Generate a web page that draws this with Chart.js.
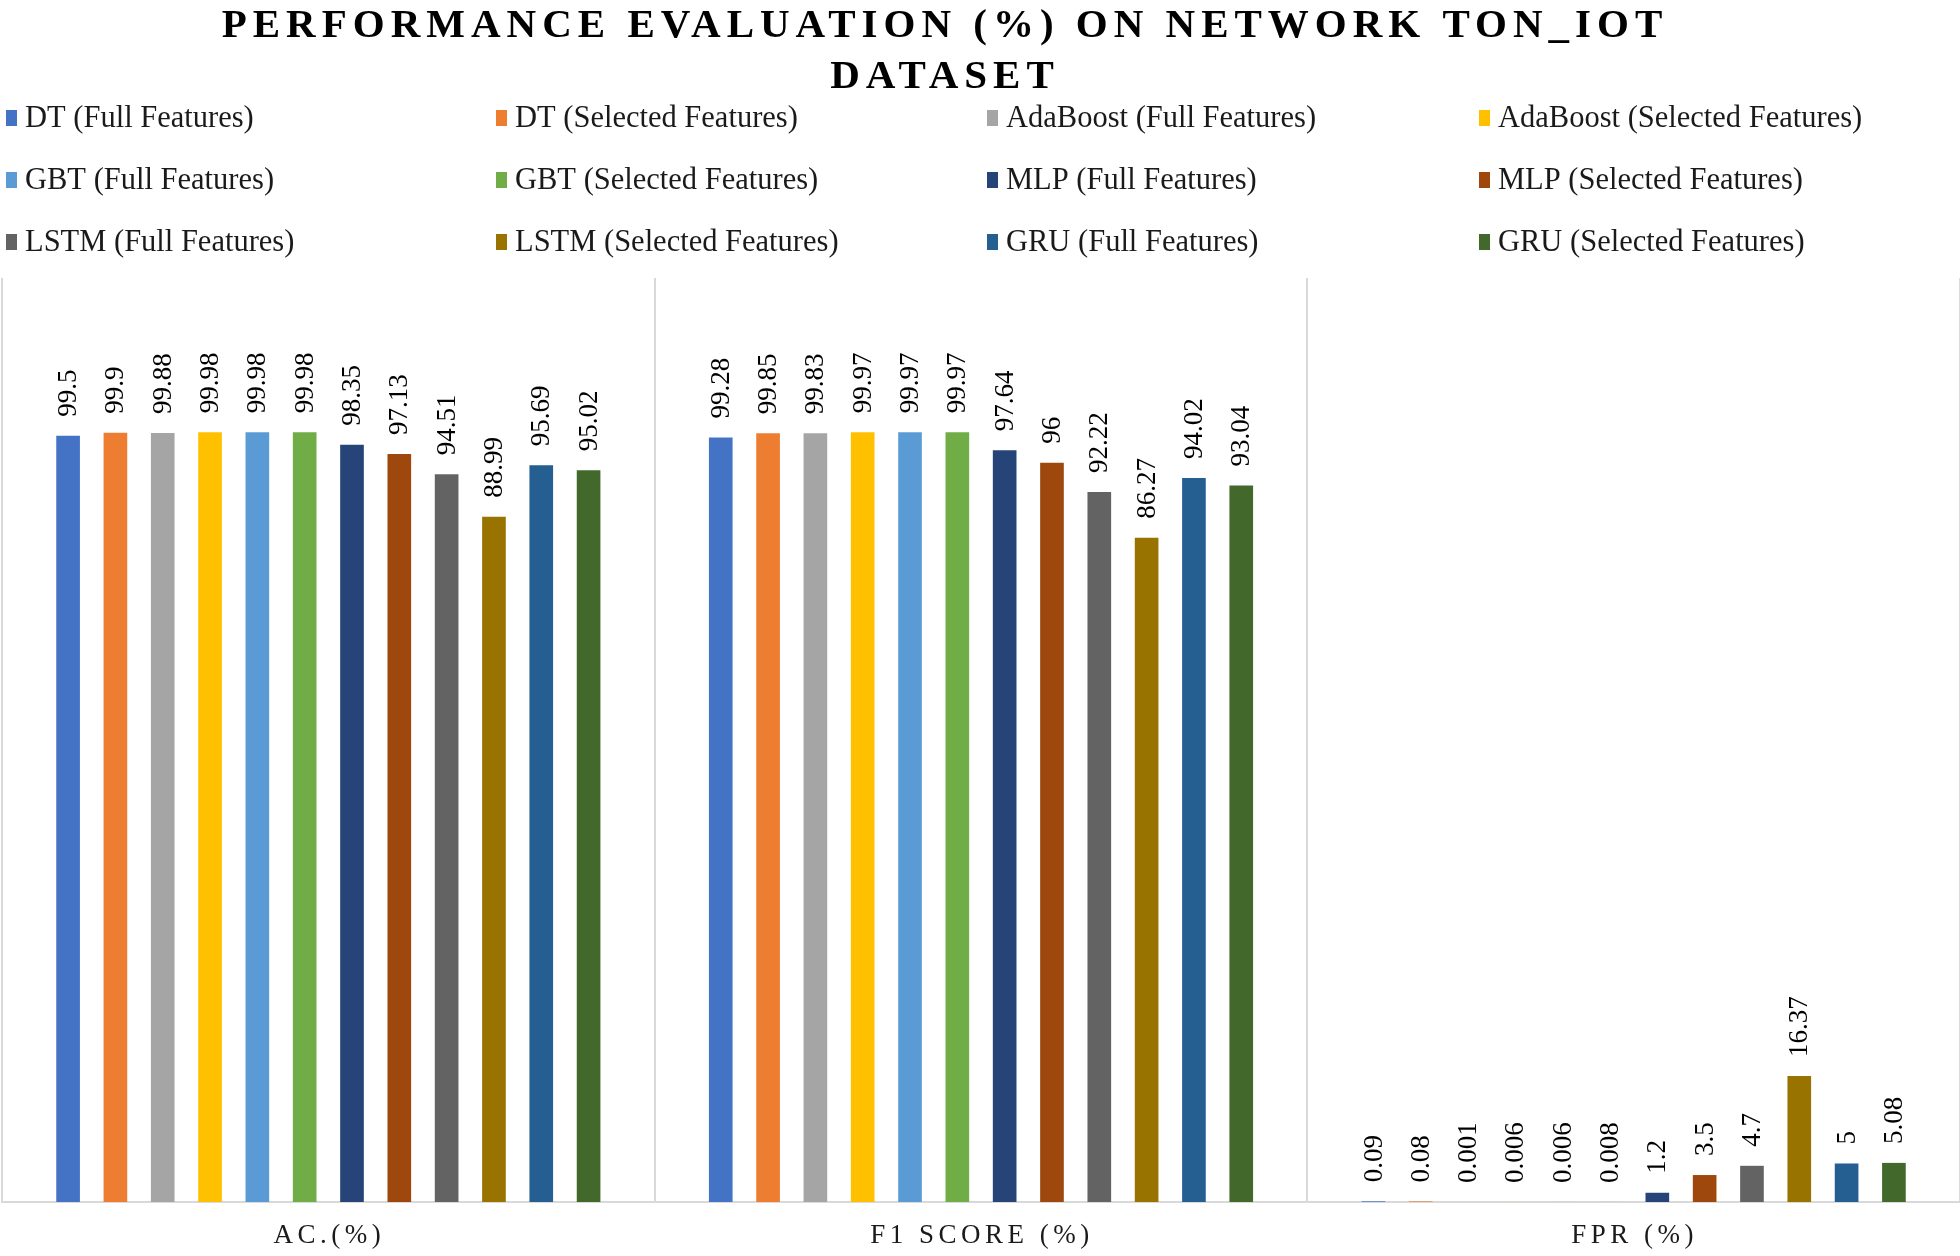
<!DOCTYPE html>
<html>
<head>
<meta charset="utf-8">
<script src="https://cdn.jsdelivr.net/npm/chart.js@4.4.1/dist/chart.umd.min.js"></script>
<style>
  html, body { margin: 0; padding: 0; background: #ffffff; }
  #wrap { width: 1960px; height: 1256px; position: relative; }
</style>
</head>
<body>
<div id="wrap"><canvas id="c"></canvas></div>
<script>
// ---- data ----
const titleLines = ['PERFORMANCE EVALUATION (%) ON NETWORK TON_IOT', 'DATASET'];
const categories = ['AC.(%)', 'F1 SCORE (%)', 'FPR (%)'];
const seriesNames = [
  'DT (Full Features)', 'DT (Selected Features)', 'AdaBoost (Full Features)', 'AdaBoost (Selected Features)',
  'GBT (Full Features)', 'GBT (Selected Features)', 'MLP (Full Features)', 'MLP (Selected Features)',
  'LSTM (Full Features)', 'LSTM (Selected Features)', 'GRU (Full Features)', 'GRU (Selected Features)'
];
const acValues  = [99.5, 99.9, 99.88, 99.98, 99.98, 99.98, 98.35, 97.13, 94.51, 88.99, 95.69, 95.02];
const f1Values  = [99.28, 99.85, 99.83, 99.97, 99.97, 99.97, 97.64, 96, 92.22, 86.27, 94.02, 93.04];
const fprValues = [0.09, 0.08, 0.001, 0.006, 0.006, 0.008, 1.2, 3.5, 4.7, 16.37, 5, 5.08];
const seriesColors = [
  '#4472C4', '#ED7D31', '#A5A5A5', '#FFC000', '#5B9BD5', '#70AD47',
  '#264478', '#9E480E', '#636363', '#997300', '#255E91', '#43682B'
];

const datasets = seriesNames.map((name, i) => ({
  label: name,
  data: [acValues[i], f1Values[i], fprValues[i]],
  backgroundColor: seriesColors[i],
  borderWidth: 0,
  categoryPercentage: 0.87,
  barPercentage: 0.5
}));

const SERIF = '"Liberation Serif", "Times New Roman", serif';

const decorPlugin = {
  id: 'decor',
  afterDatasetsDraw(chart) {
    const ctx = chart.ctx;
    ctx.save();
    ctx.fillStyle = '#000000';
    ctx.font = '27px ' + SERIF;
    ctx.textAlign = 'left';
    ctx.textBaseline = 'middle';
    chart.data.datasets.forEach((ds, di) => {
      const meta = chart.getDatasetMeta(di);
      meta.data.forEach((el, idx) => {
        const v = ds.data[idx];
        ctx.save();
        ctx.translate(el.x, el.y - 19);
        ctx.rotate(-Math.PI / 2);
        ctx.fillText(String(v), 0, 1);
        ctx.restore();
      });
    });
    ctx.restore();
  },
  afterDraw(chart) {
    const ctx = chart.ctx;
    ctx.save();
    // title
    ctx.fillStyle = '#000000';
    ctx.font = 'bold 41px ' + SERIF;
    ctx.letterSpacing = '6px';
    ctx.textAlign = 'center';
    ctx.textBaseline = 'alphabetic';
    ctx.fillText(titleLines[0], 945, 37);
    ctx.fillText(titleLines[1], 945, 88);

    // legend
    ctx.letterSpacing = '0px';
    ctx.font = '30.5px ' + SERIF;
    ctx.textAlign = 'left';
    ctx.textBaseline = 'middle';
    const colX = [6, 496, 987, 1479];
    const rowY = [118, 180, 242];
    chart.data.datasets.forEach((ds, i) => {
      const cx = colX[i % 4];
      const cy = rowY[Math.floor(i / 4)];
      ctx.fillStyle = ds.backgroundColor;
      ctx.fillRect(cx, cy - 8, 11, 16);
      ctx.fillStyle = '#1a1a1a';
      ctx.fillText(ds.label, cx + 19, cy + 1);
    });

    // category labels
    const xs = chart.scales.x;
    ctx.font = '27px ' + SERIF;
    ctx.letterSpacing = '4.5px';
    ctx.textAlign = 'center';
    ctx.fillStyle = '#1a1a1a';
    chart.data.labels.forEach((lab, i) => {
      const x = xs.getPixelForValue(i);
      ctx.fillText(lab, x + 1, 1236);
    });
    ctx.restore();
  }
};

new Chart(document.getElementById('c'), {
  type: 'bar',
  data: { labels: categories, datasets },
  options: {
    responsive: true,
    maintainAspectRatio: false,
    animation: false,
    layout: { padding: { top: 278, bottom: 54, left: 2, right: 0 } },
    plugins: {
      legend: { display: false },
      title: { display: false },
      tooltip: { enabled: false }
    },
    scales: {
      x: {
        ticks: { display: false },
        grid: { offset: true, color: '#d9d9d9', lineWidth: 2, drawTicks: false },
        border: { display: true, color: '#d9d9d9', width: 2 }
      },
      y: {
        display: false,
        min: 0,
        max: 120
      }
    }
  },
  plugins: [decorPlugin]
});
</script>
</body>
</html>
